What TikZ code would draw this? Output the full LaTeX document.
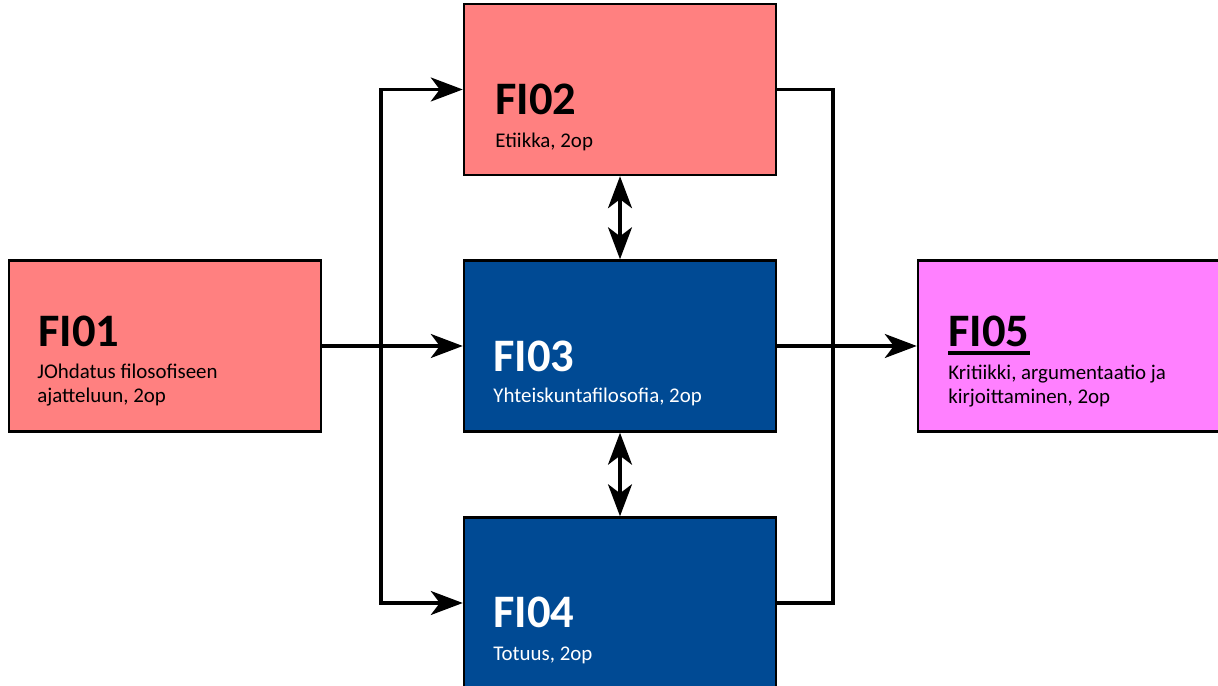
\documentclass[tikz,border=0pt]{standalone}
\usepackage{fontspec}
\setmainfont{Carlito}
\usetikzlibrary{arrows.meta}
\definecolor{coursered}{RGB}{255,128,128}
\definecolor{courseblue}{RGB}{0,74,148}
\definecolor{coursepink}{RGB}{255,128,255}
\begin{document}
\begin{tikzpicture}[
	block/.style={draw, rectangle, line width=1.4pt, minimum width=6.24cm, minimum height=3.42cm},
	title/.style={anchor=base west, inner sep=0pt, font=\fontsize{26.5}{32}\selectfont\bfseries},
	info/.style={anchor=base west, inner sep=0pt, align=left, font=\fontsize{11.9}{14.2}\selectfont},
	link/.style={line width=1.8pt},
	arrow/.style={link, -{Stealth[length=0.64cm, width=0.48cm, inset=0.18cm]}},
	twoway/.style={link, {Stealth[length=0.64cm, width=0.48cm, inset=0.18cm]}-{Stealth[length=0.64cm, width=0.48cm, inset=0.18cm]}}
	]
	\useasboundingbox (0,0) rectangle (24.36,13.72);
	
	%Blocks
	\node (FI01) at (3.30,6.80) [block, fill=coursered]{};
	\node (FI02) at (12.40,11.93) [block, fill=coursered]{};
	\node (FI03) at (12.40,6.80) [block, fill=courseblue]{};
	\node (FI04) at (12.40,1.66) [block, fill=courseblue]{};
	\node (FI05) at (21.48,6.80) [block, fill=coursepink]{};
	
	%Writing in the blocks
	\node (t01) at (0.76,6.78) [title]{FI01};
	\node (s01) at (0.74,5.66) [info]{JOhdatus filosofiseen\\ajatteluun, 2op};
	\node (t02) at (9.90,11.42) [title]{FI02};
	\node (s02) at (9.90,10.76) [info]{Etiikka, 2op};
	\node (t03) at (9.86,6.28) [title, text=white]{FI03};
	\node (s03) at (9.86,5.66) [info, text=white]{Yhteiskuntafilosofia, 2op};
	\node (t04) at (9.86,1.16) [title, text=white]{FI04};
	\node (s04) at (9.86,0.50) [info, text=white]{Totuus, 2op};
	\node (t05) at (18.96,6.78) [title]{FI05};
	\node (s05) at (18.96,5.64) [info]{Kritiikki, argumentaatio ja\\kirjoittaminen, 2op};
	\draw[line width=2.4pt] ([yshift=-0.12cm]t05.base west) -- ([yshift=-0.12cm]t05.base east);
	
	%Connections
	\coordinate (splitL) at (7.62,6.80);
	\coordinate (joinR) at (16.66,6.80);
	\draw[arrow] (FI01) -- (FI03);
	\draw[arrow] (splitL) |- (FI02.west);
	\draw[arrow] (splitL) |- (FI04.west);
	\draw[link] (FI02.east) -| (joinR);
	\draw[link] (FI04.east) -| (joinR);
	\draw[arrow] (FI03) -- (FI05);
	\draw[twoway] (FI02) -- (FI03);
	\draw[twoway] (FI03) -- (FI04);
	
\end{tikzpicture}
\end{document}
